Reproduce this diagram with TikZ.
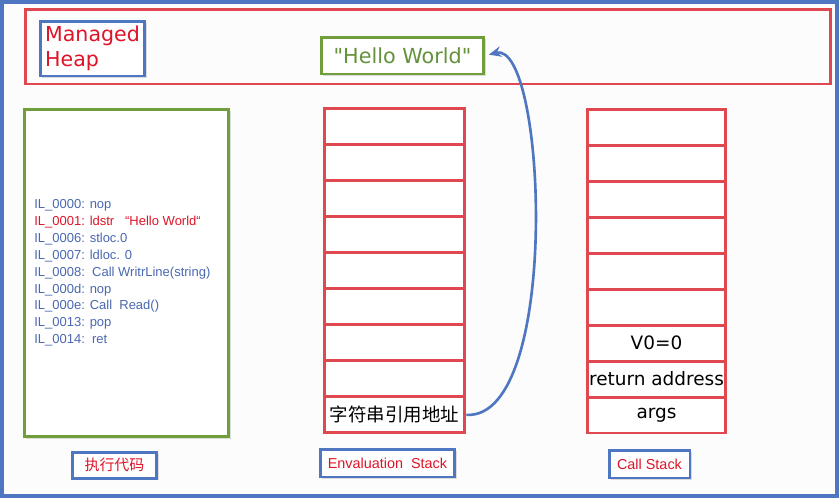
\documentclass[tikz,border=0pt]{standalone}
\usepackage{fontspec}
\setmainfont{DejaVu Sans}[Ligatures=TeXOff]
\newfontfamily\cjkfont{Noto Sans CJK SC}
\newfontfamily\labelfont{Liberation Sans}
\usetikzlibrary{arrows.meta,shadows}
\definecolor{heapred}{RGB}{222,72,78}
\definecolor{boxgreen}{RGB}{112,158,58}
\definecolor{txtgreen}{RGB}{100,146,60}
\definecolor{tagblue}{RGB}{79,118,192}
\definecolor{codeblue}{RGB}{74,104,178}
\definecolor{txtred}{RGB}{222,20,40}
\definecolor{pagebg}{RGB}{252,252,252}
\tikzset{
  redbox/.style={draw=heapred,line width=1.7pt},
  cell/.style={redbox,fill=white,minimum height=0.72cm,inner sep=0pt,font=\fontsize{10.5}{12}\selectfont},
  evcell/.style={cell,minimum width=2.82cm},
  cscell/.style={cell,minimum width=2.78cm},
  softshadow/.style={drop shadow={shadow xshift=1.2pt,shadow yshift=-1.2pt,opacity=0.25}},
  greenbox/.style={draw=boxgreen,line width=1.7pt,fill=white,softshadow},
  tag/.style={draw=tagblue,line width=1.7pt,fill=white,text=txtred,inner sep=0pt,softshadow},
  ptr/.style={draw=tagblue,line width=1.5pt,-{Stealth[length=7pt,width=6pt]}}
}

\begin{document}
\begin{tikzpicture}[x=0.02cm,y=-0.02cm]
\useasboundingbox (0,0) rectangle (839,498);
\draw[fill=pagebg,draw=tagblue,line width=2.2pt] (2,2) rectangle (837,496);

% managed heap
\node[redbox,minimum width=16.12cm,minimum height=1.5cm] (heap) at (428,46.5) {};
\node[tag,minimum width=2.1cm,minimum height=1.1cm,align=left,font=\fontsize{11.7}{14.2}\selectfont] (mh) at (92.5,48.5) {Managed\\Heap};
\node[greenbox,minimum width=3.26cm,minimum height=0.74cm,text=txtgreen,font=\fontsize{11.8}{14}\selectfont] (hello) at (402.5,55.5) {"Hello World"};

% IL code
\node[greenbox,minimum width=4.1cm,minimum height=6.56cm] (codebox) at (126.5,273) {};
\node[anchor=west,align=left,inner sep=0pt,text=codeblue,font=\labelfont\fontsize{7.4}{9.6}\selectfont] (code) at (34,273)
  {IL\_0000: nop\\
   \textcolor{txtred}{IL\_0001: ldstr\ \ \ “Hello World“}\\
   IL\_0006: stloc.0\\
   IL\_0007: ldloc. 0\\
   IL\_0008:\ \ Call WritrLine(string)\\
   IL\_000d: nop\\
   IL\_000e: Call\ \ Read()\\
   IL\_0013: pop\\
   IL\_0014:\ \ ret};

% evaluation stack
\foreach \i in {1,...,8}
  \node[evcell] (e\i) at (394.5,{108+36.1*(\i-0.5)}) {};
\node[evcell,font=\cjkfont\fontsize{10.5}{12}\selectfont] (e9) at (394.5,{108+36.1*8.5}) {字符串引用地址};

% call stack
\foreach \i in {1,...,6}
  \node[cscell] (c\i) at (656.5,{109+36*(\i-0.5)}) {};
\node[cscell] (c7) at (656.5,{109+36*6.5}) {V0=0};
\node[cscell] (c8) at (656.5,{109+36*7.5}) {return address};
\node[cscell] (c9) at (656.5,{109+36*8.5}) {args};

% captions
\node[tag,minimum width=1.7cm,minimum height=0.52cm,font=\cjkfont\fontsize{8.5}{10}\selectfont] (codetag) at (114.5,465) {执行代码};
\node[tag,minimum width=2.7cm,minimum height=0.56cm,font=\labelfont\fontsize{8.2}{10}\selectfont] (evtag) at (387.5,463) {Envaluation\ \ Stack};
\node[tag,minimum width=1.62cm,minimum height=0.56cm,font=\labelfont\fontsize{8.2}{10}\selectfont] (cstag) at (649.5,464) {Call Stack};

\draw[ptr,shorten >=2pt] (e9.east) .. controls +(95,5) and +(61,-15.5) .. (hello.east);
\end{tikzpicture}
\end{document}
